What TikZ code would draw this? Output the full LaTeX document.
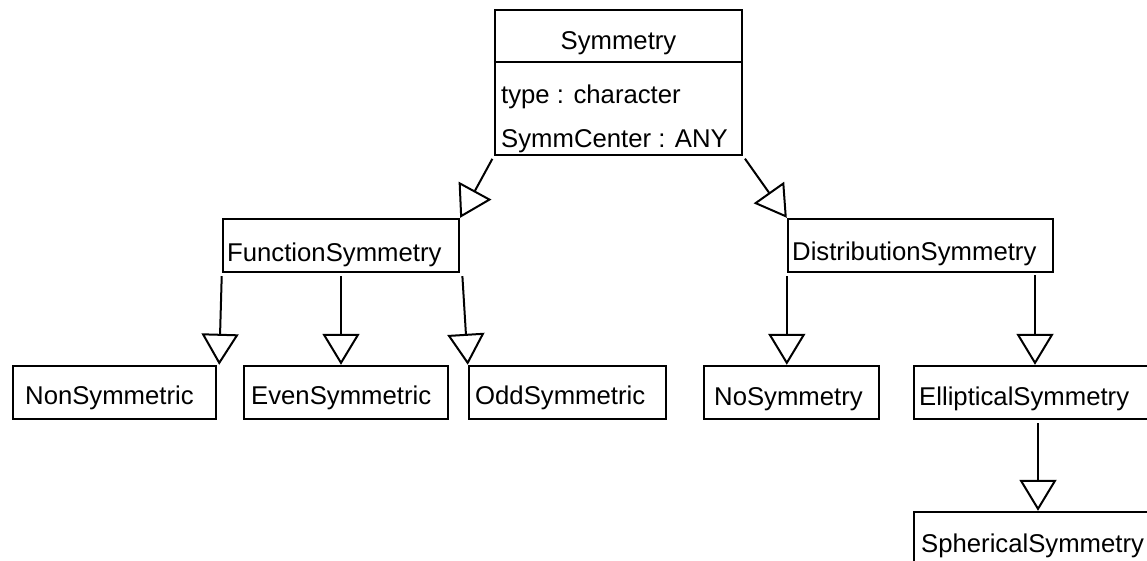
\documentclass[tikz,border=0pt]{standalone}
\usepackage{fontspec}
\setmainfont{Liberation Sans}
\usetikzlibrary{arrows.meta}
\begin{document}
\begin{tikzpicture}[x=1pt,y=-1pt,
  box/.style={draw=black, line width=2.4pt, inner sep=0pt, rectangle},
  lbl/.style={anchor=base west, inner sep=0pt, font=\fontsize{25.7}{30}\selectfont},
  gen/.style={draw=black, line width=2pt, shorten <=3pt,
     -{Triangle[open, length=31pt, width=37pt, fill=white]}}]
\useasboundingbox (0,0) rectangle (1147,561);
\clip (0,0) rectangle (1147,561);
\fill[white] (0,0) rectangle (1147,561);
% class Symmetry
\node[box, minimum width=247pt, minimum height=145pt] (sym) at (618.5,82.5) {};
\draw[line width=2.4pt] (sym.west |- 0,62) -- (sym.east |- 0,62);
\node[lbl, anchor=base] (symt) at (618.5,50) {Symmetry};
\node[lbl] (a1) at (501,104) {type : character};
\node[lbl] (a2) at (501,148) {SymmCenter : ANY};
% level 2
\node[box, minimum width=236pt, minimum height=53pt] (fs) at (341,245.5) {};
\node[lbl] (fst) at (227,261) {FunctionSymmetry};
\node[box, minimum width=265pt, minimum height=53pt] (ds) at (920.5,245.5) {};
\node[lbl] (dst) at (792,260) {DistributionSymmetry};
% level 3
\node[box, minimum width=203pt, minimum height=53pt] (non) at (114.5,392.5) {};
\node[lbl] (nont) at (25,404) {NonSymmetric};
\node[box, minimum width=204pt, minimum height=53pt] (even) at (346,392.5) {};
\node[lbl] (event) at (251,404) {EvenSymmetric};
\node[box, minimum width=197pt, minimum height=53pt] (odd) at (567.5,392.5) {};
\node[lbl] (oddt) at (475,404) {OddSymmetric};
\node[box, minimum width=175pt, minimum height=53pt] (nos) at (791.5,392.5) {};
\node[lbl] (nost) at (714,405) {NoSymmetry};
\node[box, minimum width=248pt, minimum height=53pt] (ell) at (1038,392.5) {};
\node[lbl] (ellt) at (919,405) {EllipticalSymmetry};
\node[box, minimum width=248pt, minimum height=53pt] (sph) at (1038,538.5) {};
\node[lbl] (spht) at (921,552) {SphericalSymmetry};
% connectors
\coordinate (d2) at (1035,272);
\draw[gen] (sym.south west) -- (fs.north east);
\draw[gen] (sym.south east) -- (ds.north west);
\draw[gen] (fs.south west) -- ([xshift=2pt]non.north east);
\draw[gen] (fs.south) -- (fs.south |- even.north);
\draw[gen] ([xshift=2pt]fs.south east) -- (odd.north west);
\draw[gen] (ds.south west) -- (ds.south west |- nos.north);
\draw[gen] (d2) -- (d2 |- ell.north);
\draw[gen] (ell.south) -- (sph.north);
\end{tikzpicture}
\end{document}
